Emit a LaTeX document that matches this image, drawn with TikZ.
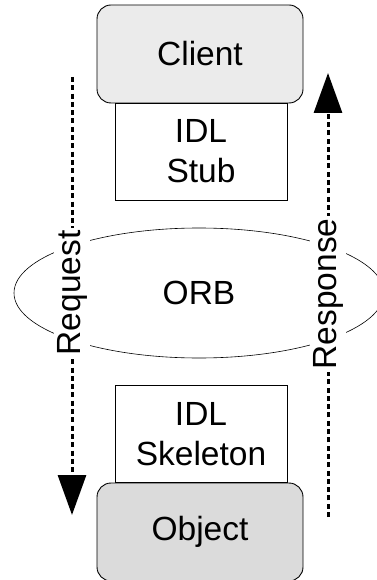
\documentclass[tikz,border=0pt]{standalone}
\usepackage{fontspec}
\setmainfont{Liberation Sans}
\usetikzlibrary{arrows.meta,shapes.geometric}

\tikzset{
  basefont/.style={font=\fontsize{33.5}{40}\selectfont},
  endpoint/.style={draw=black, line width=0.9pt, rounded corners=14pt,
    minimum width=206pt, minimum height=98pt, inner sep=0pt, basefont},
  idlbox/.style={draw=black, line width=0.9pt, fill=white,
    minimum width=172pt, minimum height=97pt, inner sep=0pt,
    align=center, basefont},
  orb/.style={draw=black, line width=0.6pt, ellipse,
    minimum width=370pt, minimum height=130pt, inner sep=0pt, basefont},
  flow/.style={line width=3pt, dash pattern=on 5pt off 3.3pt,
    -{Triangle[length=40pt,width=28pt]}},
  flowlabel/.style={fill=white, rotate=90, inner sep=3pt, basefont},
}

\begin{document}
\begin{tikzpicture}[x=1pt, y=-1pt]
  \useasboundingbox (0,0) rectangle (376,580);

  % broker in the middle
  \node[orb] (orb) at (199,293) {ORB};

  % request / response flows
  \coordinate (reqstart) at (72,77);
  \coordinate (reqend)   at (72,515);
  \coordinate (resstart) at (328,517);
  \coordinate (resend)   at (328,73);
  \draw[flow] (reqstart) -- (reqend);
  \draw[flow] (resstart) -- (resend);
  \node[flowlabel] (reqlabel) at (72,293) {Request};
  \node[flowlabel] (reslabel) at (328,294) {Response};

  % stubs
  \node[idlbox] (stub) at (201,151.5) {IDL\\Stub};
  \node[idlbox] (skel) at (201,434) {IDL\\Skeleton};

  % client and server object
  \node[endpoint, fill=black!8]  (client) at (200,54)  {Client};
  \node[endpoint, fill=black!14] (object) at (200,532) {Object};
\end{tikzpicture}
\end{document}
